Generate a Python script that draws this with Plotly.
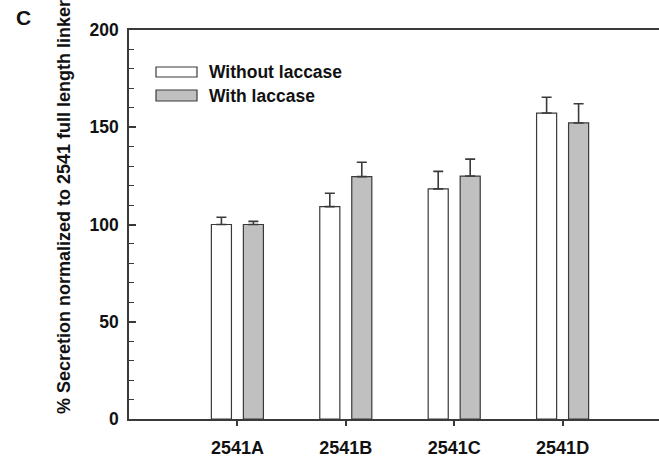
import plotly.graph_objects as go

# Constructs and measured secretion (% of 2541 full-length linker)
constructs = ["2541A", "2541B", "2541C", "2541D"]
without_laccase = [100.0, 109.2, 118.3, 157.3]
without_laccase_err = [3.7, 6.9, 9.0, 8.1]
with_laccase = [100.0, 124.6, 124.9, 152.2]
with_laccase_err = [1.6, 7.4, 8.7, 9.9]
y_ticks = [0, 50, 100, 150, 200]

positions = list(range(1, len(constructs) + 1))

FONT = "Arial, Liberation Sans, sans-serif"
EDGE = "#3a3a3a"
GREY_FILL = "#c0c0c0"

fig = go.Figure()

fig.add_trace(go.Bar(
    x=positions, y=without_laccase, name="Without laccase",
    width=0.185, offset=-0.24,
    marker=dict(color="white", line=dict(color=EDGE, width=1.2)),
    error_y=dict(type="data", symmetric=False, array=without_laccase_err,
                 arrayminus=[0] * len(constructs),
                 color=EDGE, thickness=1.6, width=5),
    showlegend=False,
))
fig.add_trace(go.Bar(
    x=positions, y=with_laccase, name="With laccase",
    width=0.185, offset=0.055,
    marker=dict(color=GREY_FILL, line=dict(color=EDGE, width=1.2)),
    error_y=dict(type="data", symmetric=False, array=with_laccase_err,
                 arrayminus=[0] * len(constructs),
                 color=EDGE, thickness=1.6, width=5),
    showlegend=False,
))

W, H = 659, 457
ml, mr, mt, mb = 129, 0, 30, 38
pw, ph = W - ml - mr, H - mt - mb


def px_x(x):
    return (x - ml) / pw


def px_y(y):
    return (H - mb - y) / ph


# Legend drawn as outlined swatches with bold labels
shapes = []
annotations = []
for label, fill, top_px, bot_px in [("Without laccase", "white", 67, 77),
                                    ("With laccase", GREY_FILL, 90, 101)]:
    shapes.append(dict(type="rect", xref="paper", yref="paper",
                       x0=px_x(156), x1=px_x(197), y0=px_y(bot_px), y1=px_y(top_px),
                       fillcolor=fill, line=dict(color=EDGE, width=1.2)))
    annotations.append(dict(xref="paper", yref="paper", x=px_x(207),
                            y=px_y((top_px + bot_px) / 2), text=f"<b>{label}</b>",
                            showarrow=False, xanchor="left", yanchor="middle",
                            font=dict(family=FONT, size=17.5, color="#111")))

# Y-axis title and panel letter
annotations.append(dict(xref="paper", yref="paper", x=px_x(64), y=px_y(207),
                        text="<b>% Secretion normalized to 2541 full length linker</b>",
                        textangle=-90, showarrow=False, xanchor="center", yanchor="middle",
                        font=dict(family=FONT, size=18, color="#111")))
annotations.append(dict(xref="paper", yref="paper", x=px_x(23), y=px_y(18),
                        text="<b>C</b>", showarrow=False, xanchor="center", yanchor="middle",
                        font=dict(family=FONT, size=21, color="#111")))

fig.update_layout(
    width=W, height=H,
    margin=dict(l=ml, r=mr, t=mt, b=mb, pad=0),
    paper_bgcolor="white", plot_bgcolor="white",
    barmode="overlay",
    shapes=shapes, annotations=annotations,
    font=dict(family=FONT, color="#111"),
)

fig.update_xaxes(
    range=[0, pw / 108.4],
    tickvals=positions, ticktext=[f"<b>{c}</b>" for c in constructs],
    tickfont=dict(family=FONT, size=18, color="#111"),
    ticks="outside", ticklen=5, tickwidth=1.5, tickcolor=EDGE,
    showline=True, linecolor=EDGE, linewidth=1.5, mirror=True,
    showgrid=False, zeroline=False, ticklabelstandoff=7,
)
fig.update_yaxes(
    range=[0, 200],
    tickvals=y_ticks, ticktext=[f"<b>{v}</b>" for v in y_ticks],
    tickfont=dict(family=FONT, size=17.5, color="#111"),
    ticks="inside", ticklen=7, tickwidth=1.5, tickcolor=EDGE,
    minor=dict(dtick=10, ticks="inside", ticklen=5, tickwidth=1.2, tickcolor=EDGE),
    showline=True, linecolor=EDGE, linewidth=1.5,
    showgrid=False, zeroline=False, ticklabelstandoff=5,
)

fig.write_html("out.html")
